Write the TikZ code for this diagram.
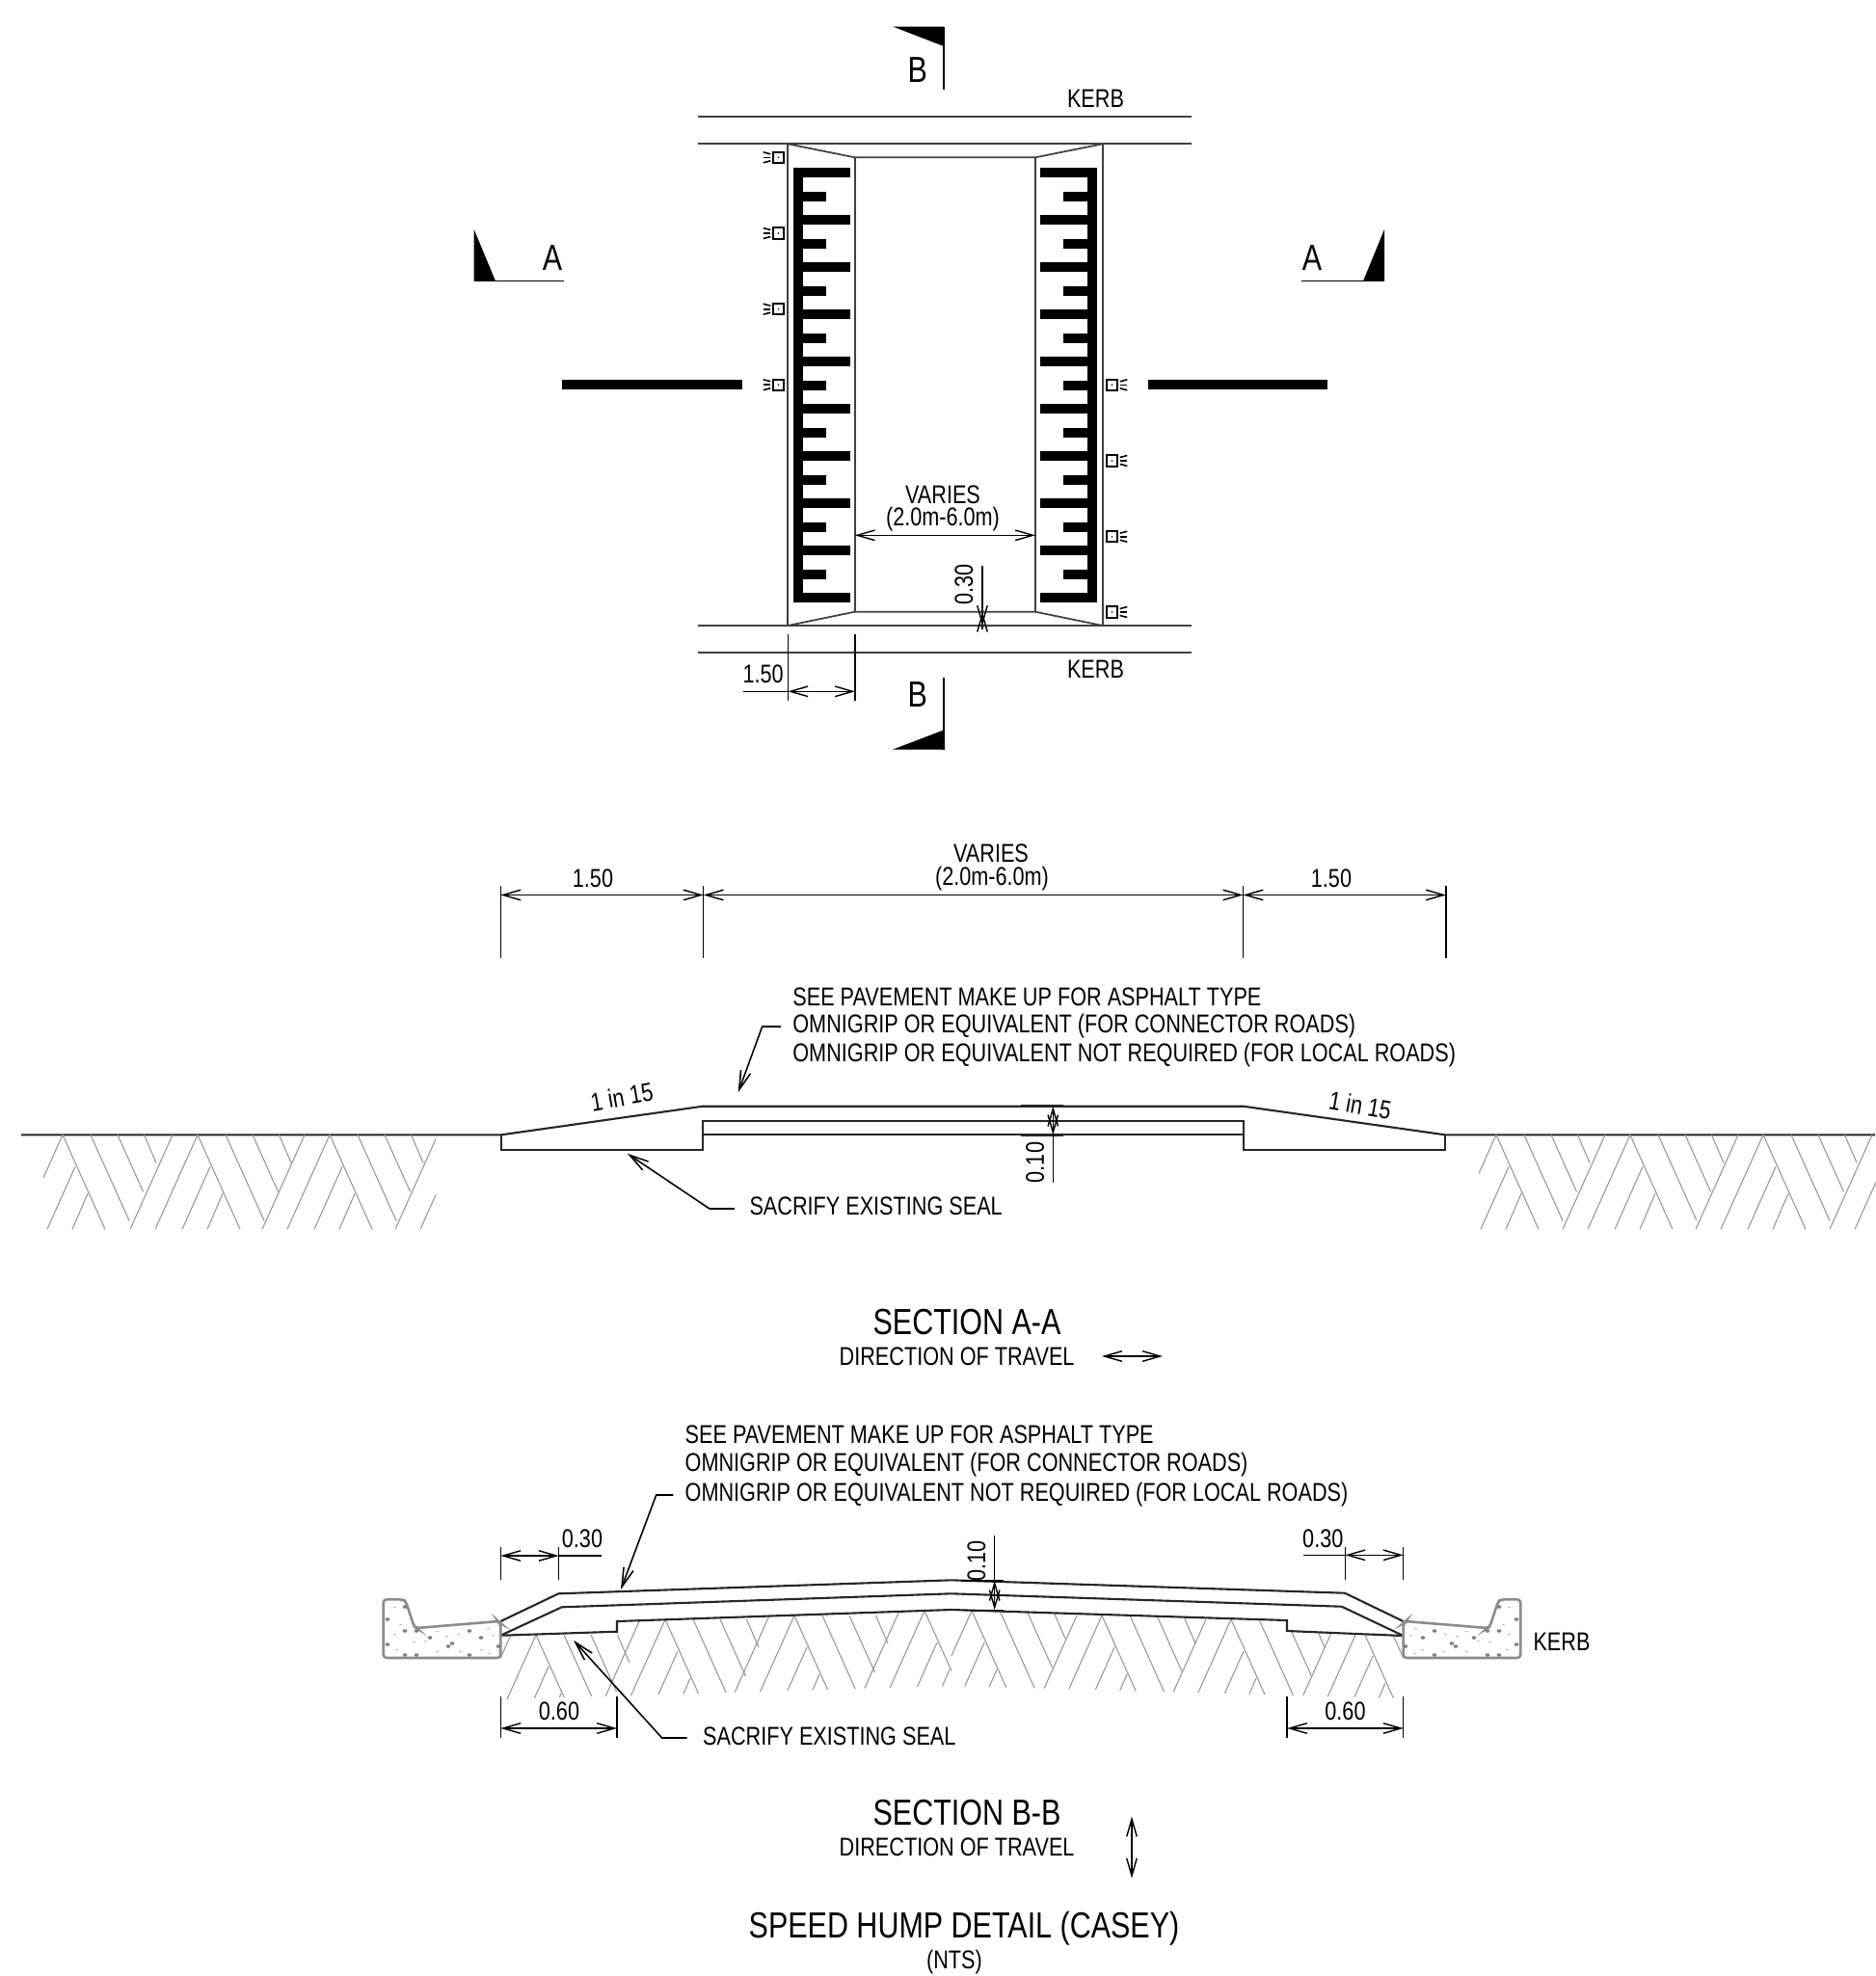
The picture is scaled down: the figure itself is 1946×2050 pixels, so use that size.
\documentclass[tikz,border=0pt]{standalone}
\usepackage{fontspec}
\setmainfont[FakeStretch=0.81]{Liberation Sans}
\usetikzlibrary{arrows.meta}

\tikzset{
  planline/.style={line width=0.5pt,black!75},
  roadline/.style={line width=0.6pt,black!85},
  thinline/.style={line width=0.4pt,black},
  hatchline/.style={line width=0.32pt,black!40},
  dimline/.style={line width=0.4pt,black,<->,>={Straight Barb[length=5.2pt,width=3pt]}},
  leaderline/.style={line width=0.45pt,black,->,>={Straight Barb[length=5.6pt,width=3pt]}},
  kerbline/.style={line width=0.75pt,black!45,rounded corners=1pt},
  note/.style={font=\fontsize{7.6pt}{8.5pt}\selectfont,inner sep=0pt},
  bignote/.style={font=\fontsize{10.7pt}{12pt}\selectfont,inner sep=0pt},
}

\newcommand{\hatchcell}[2]{
  \draw[hatchline] (#1,#2) -- ++(44,98);
  \draw[hatchline] (#1+29,#2) -- ++(40,89);
  \draw[hatchline] (#1+57,#2) -- ++(26.5,59);
  \draw[hatchline] (#1+84.5,#2) -- ++(12.5,29);
  \draw[hatchline] (#1,#2) -- ++(-44,98);
  \draw[hatchline] (#1-26,#2) -- ++(-44,98);
  \draw[hatchline] (#1+13,#2+33) -- ++(-29,65);
  \draw[hatchline] (#1+26,#2+61) -- ++(-16,37);
}

\newcommand{\kerbshape}{
  \draw[kerbline] (519.3,1684) -- (517,1682) -- (432,1689) -- (429.5,1687.5) -- (421,1661.5) -- (418,1659.3)
    -- (397.7,1659.3) -- (397.7,1720) -- (519.3,1720) -- cycle;
  \foreach \x/\y in {420/1667,402/1680,420/1692,432/1692,446/1699,487/1692,499/1699,465/1708,469/1705,402/1706,420/1717,432/1717,487/1717,517/1708}
    \fill[black!50] (\x,\y) ellipse (2.4 and 1.8);
  \foreach \x/\y in {408/1668,414/1686,425/1678,440/1703,452/1693,474/1696,505/1690,510/1697,408/1696,428/1704,452/1714,476/1714,498/1712,506/1716,410/1712,462/1698}
    \draw[line width=0.2pt,black!35] (\x,\y) -- ++(3,-0.8);
}

\begin{document}
\begin{tikzpicture}[x=0.01cm,y=-0.01cm]
  \useasboundingbox (0,0) rectangle (1946,2050);

  % plan
  \draw[planline] (724,121.3) -- (1236,121.3);
  \draw[planline] (724,149.3) -- (1236,149.3);
  \draw[planline] (724,649) -- (1236,649);
  \draw[planline] (724,676.7) -- (1236,676.7);
  \draw[planline] (817.3,149.3) -- (817.3,649);
  \draw[planline] (886.7,163.3) -- (886.7,634.7);
  \draw[planline] (1074,163.3) -- (1074,634.7);
  \draw[planline] (1143.7,149.3) -- (1143.7,649);
  \draw[planline] (817.3,149.3) -- (886.7,163.3) -- (1074,163.3) -- (1143.7,149.3);
  \draw[planline] (817.3,649) -- (886.7,634.7) -- (1074,634.7) -- (1143.7,649);

  \fill (823,174.3) rectangle (832.7,625);
  \fill (1128.3,174.3) rectangle (1138.3,625);
  \foreach \k in {0,...,9} {
    \fill (823,{174.3+49*\k}) rectangle (881.7,{184+49*\k});
    \fill (1078.7,{174.3+49*\k}) rectangle (1138.3,{184+49*\k});
  }
  \foreach \k in {0,...,8} {
    \fill (823,{198.8+49*\k}) rectangle (856.7,{208.6+49*\k});
    \fill (1103.3,{198.8+49*\k}) rectangle (1138.3,{208.6+49*\k});
  }

  \foreach \y in {163.3,242,320.7,399.2} {
    \draw[line width=0.6pt] (801.7,\y-5.6) rectangle (813.3,\y+5.6);
    \fill (807.5,\y) circle (0.9);
    \draw[line width=0.45pt] (791.7,\y) -- (799.3,\y);
    \draw[line width=0.45pt] (791.7,\y-5.5) -- (799.3,\y-3.5);
    \draw[line width=0.45pt] (791.7,\y+5.5) -- (799.3,\y+3.5);
  }
  \foreach \y in {399.3,478,556.7,635} {
    \draw[line width=0.6pt] (1147.7,\y-5.6) rectangle (1159.3,\y+5.6);
    \fill (1153.5,\y) circle (0.9);
    \draw[line width=0.45pt] (1161.7,\y) -- (1169.3,\y);
    \draw[line width=0.45pt] (1161.7,\y-3.5) -- (1169.3,\y-5.5);
    \draw[line width=0.45pt] (1161.7,\y+3.5) -- (1169.3,\y+5.5);
  }

  \fill (583,394.3) rectangle (770,404.3);
  \fill (1191,394.3) rectangle (1377,404.3);

  % section markers
  \fill (926,27.5) -- (979,27.5) -- (979,48) -- cycle;
  \draw[thinline] (979,27.5) -- (979,93);
  \node[bignote] (labelbtop) at (951.7,73) {B};
  \fill (925.7,777.7) -- (979,777.7) -- (979,757.3) -- cycle;
  \draw[thinline] (979,702.7) -- (979,777.7);
  \node[bignote] (labelbbot) at (951.7,720.7) {B};
  \fill (491.7,238) -- (491.7,291.6) -- (514,291.6) -- cycle;
  \draw[thinline] (491.7,291.6) -- (584.6,291.6);
  \node[bignote] (labelaleft) at (573,268) {A};
  \fill (1436,238) -- (1436,291.6) -- (1414,291.6) -- cycle;
  \draw[thinline] (1350,291.6) -- (1436,291.6);
  \node[bignote] (labelaright) at (1361,268) {A};

  \node[note] (kerbtop) at (1136.5,102) {KERB};
  \node[note] (kerbbot) at (1136.5,694.5) {KERB};
  \node[note] (varplan) at (978,513) {VARIES};
  \node[note] (rangeplan) at (978,539) {(2.0m-6.0m)};
  \draw[dimline] (886.7,555.3) -- (1074,555.3);
  \draw[thinline] (1019,587) -- (1019,640);
  \draw[thinline,-{Straight Barb[length=5.2pt,width=3pt]}] (1019,653) -- (1019,634.7);
  \draw[thinline,-{Straight Barb[length=5.2pt,width=3pt]}] (1019,630) -- (1019,649);
  \node[note,rotate=90] (humpplan) at (1000,606.7) {0.30};
  \draw[thinline] (817.3,658) -- (817.3,726.7);
  \draw[thinline] (887,658) -- (887,726.7);
  \draw[thinline] (770.7,717.3) -- (817.3,717.3);
  \draw[dimline] (817.3,717.3) -- (887,717.3);
  \node[note] (rampplan) at (791.7,699.3) {1.50};

  % section A-A
  \foreach \x in {519.3,729.7,1289.5,1500}
    \draw[thinline] (\x,919) -- (\x,994);
  \draw[dimline] (519.3,928.5) -- (729.7,928.5);
  \draw[dimline] (729.7,928.5) -- (1289.5,928.5);
  \draw[dimline] (1289.5,928.5) -- (1500,928.5);
  \node[note] (rampa) at (615,911.5) {1.50};
  \node[note] (rampb) at (1381,911.5) {1.50};
  \node[note] (vara) at (1028,885.5) {VARIES};
  \node[note] (rangea) at (1029,911.5) {(2.0m-6.0m)};

  \node[note,anchor=west] (notea) at (821.7,1034) {SEE PAVEMENT MAKE UP FOR ASPHALT TYPE};
  \node[note,anchor=west] (noteb) at (821.7,1065) {OMNIGRIP OR EQUIVALENT (FOR CONNECTOR ROADS)};
  \node[note,anchor=west] (notec) at (821.7,1095) {OMNIGRIP OR EQUIVALENT NOT REQUIRED (FOR LOCAL ROADS)};
  \draw[leaderline] (810,1065) -- (790.7,1065) -- (765.7,1133.3);

  \draw[roadline] (22,1177.3) -- (520,1177.3) -- (729,1147.7) -- (1289.7,1147.7) -- (1499,1177.3) -- (1945,1177.3);
  \draw[roadline] (520,1177.3) -- (520,1192.7) -- (729,1192.7) -- (729,1162.7) -- (1289.7,1162.7) -- (1289.7,1192.7) -- (1499,1192.7) -- (1499,1177.3);
  \draw[roadline] (729,1177.3) -- (1289.7,1177.3);
  \draw[line width=0.9pt,black!85] (1058.5,1147.7) -- (1102.6,1147.7);
  \draw[line width=0.9pt,black!85] (1058.5,1177.3) -- (1102.6,1177.3);
  \draw[thinline] (1092.3,1177.3) -- (1092.3,1226.7);
  \draw[dimline] (1092.3,1147.7) -- (1092.3,1177.3);
  \node[note,rotate=90] (layera) at (1073.6,1206) {0.10};
  \node[note,rotate=10] (gradea) at (645,1138) {1 in 15};
  \node[note,rotate=-10] (gradeb) at (1411,1147) {1 in 15};

  \begin{scope}
    \clip (45,1170) rectangle (452,1280);
    \foreach \x in {65,205,342,480} {
      \hatchcell{\x}{1177.3}
    }
  \end{scope}
  \begin{scope}
    \clip (1534,1170) rectangle (1946,1280);
    \foreach \x in {1552,1691,1829,1968} {
      \hatchcell{\x}{1177.3}
    }
  \end{scope}

  \draw[leaderline] (762,1254) -- (736,1254) -- (650.7,1196.7);
  \node[note,anchor=west] (sealtexta) at (776.8,1251.5) {SACRIFY EXISTING SEAL};

  \node[bignote] (titlea) at (1003,1372) {SECTION A-A};
  \node[note,anchor=west] (travela) at (870,1407) {DIRECTION OF TRAVEL};
  \draw[dimline] (1143,1407) -- (1206,1407);

  % section B-B
  \node[note,anchor=west] (noted) at (710,1488) {SEE PAVEMENT MAKE UP FOR ASPHALT TYPE};
  \node[note,anchor=west] (notee) at (710,1520) {OMNIGRIP OR EQUIVALENT (FOR CONNECTOR ROADS)};
  \node[note,anchor=west] (notef) at (710,1551) {OMNIGRIP OR EQUIVALENT NOT REQUIRED (FOR LOCAL ROADS)};
  \draw[leaderline] (698.3,1551) -- (680.7,1551) -- (644,1649);

  \begin{scope}
    \clip (519.3,1697) -- (640,1693) -- (640,1682) -- (987,1670) -- (987,1749) -- (519.3,1763) -- cycle;
    \foreach \x/\y in {556/1696,690/1680,824/1676,959/1671,1093/1667} {
      \hatchcell{\x}{\y}
    }
  \end{scope}
  \begin{scope}
    \clip (987,1670) -- (1335,1681) -- (1335,1692) -- (1455.7,1697) -- (1455.7,1762) -- (987,1749) -- cycle;
    \foreach \x/\y in {1008/1671,1143/1676,1277/1680,1411/1685,1545/1690} {
      \hatchcell{\x}{\y}
    }
  \end{scope}

  \draw[roadline] (519.3,1682) -- (579.3,1653.3) -- (986.7,1639.3) -- (1395,1652.7) -- (1455.7,1682);
  \draw[roadline] (519.3,1696.7) -- (582.7,1667.3) -- (986.7,1653.3) -- (1391.7,1666.7) -- (1455.7,1697);
  \draw[roadline] (519.3,1696.7) -- (640,1692.7) -- (640,1682) -- (986.7,1670) -- (1335,1681) -- (1335,1692) -- (1455.7,1697);

  \kerbshape
  \begin{scope}[shift={(1975,0)},xscale=-1]
    \kerbshape
  \end{scope}

  \draw[thinline] (996.7,1639.8) -- (1041,1639.8);
  \draw[thinline] (996.7,1670.3) -- (1041,1670.3);
  \draw[thinline] (1031.7,1593) -- (1031.7,1640);
  \draw[dimline] (1031.7,1639.8) -- (1031.7,1670.3);
  \node[note,rotate=90] (layerb) at (1013,1619) {0.10};

  \draw[thinline] (519.3,1605) -- (519.3,1639);
  \draw[thinline] (579.7,1605) -- (579.7,1639);
  \draw[dimline] (519.3,1614) -- (579.7,1614);
  \draw[thinline] (579.7,1614) -- (624,1614);
  \node[note] (edgea) at (604,1596) {0.30};
  \draw[thinline] (1395.3,1605) -- (1395.3,1639);
  \draw[thinline] (1455.7,1605) -- (1455.7,1639);
  \draw[dimline] (1395.3,1613.3) -- (1455.7,1613.3);
  \draw[thinline] (1351.7,1613.3) -- (1395.3,1613.3);
  \node[note] (edgeb) at (1372.3,1596) {0.30};

  \draw[thinline] (519.3,1760) -- (519.3,1802.7);
  \draw[thinline] (640,1760) -- (640,1802.7);
  \draw[dimline] (519.3,1793) -- (640,1793);
  \node[note] (sealwidtha) at (580,1775) {0.60};
  \draw[thinline] (1335,1760) -- (1335,1802.7);
  \draw[thinline] (1455.7,1760) -- (1455.7,1802.7);
  \draw[dimline] (1335,1793) -- (1455.7,1793);
  \node[note] (sealwidthb) at (1395.5,1775) {0.60};

  \draw[leaderline] (712.7,1803) -- (686.7,1803) -- (595,1701.7);
  \node[note,anchor=west] (sealtextb) at (728.5,1801) {SACRIFY EXISTING SEAL};
  \node[note] (kerbsec) at (1620,1703) {KERB};

  \node[bignote] (titleb) at (1003,1880.6) {SECTION B-B};
  \node[note,anchor=west] (travelb) at (870,1916) {DIRECTION OF TRAVEL};
  \draw[dimline] (1174,1884.5) -- (1174,1948.6);

  \node[bignote] (titlec) at (1000,2001) {SPEED HUMP DETAIL (CASEY)};
  \node[note] (scale) at (990,2036) {(NTS)};
\end{tikzpicture}
\end{document}
